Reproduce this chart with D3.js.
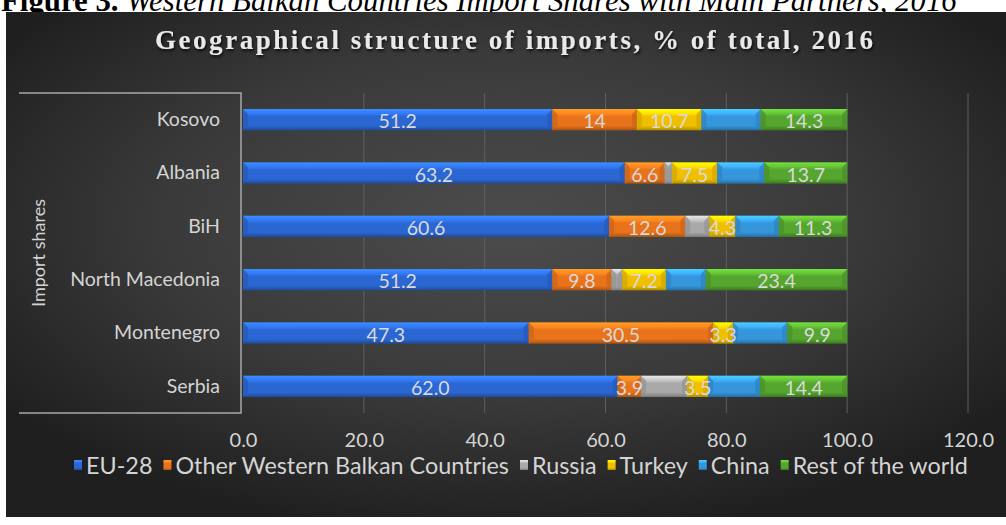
<!DOCTYPE html>
<html>
<head>
<meta charset="utf-8">
<script src="https://cdn.jsdelivr.net/npm/d3@7"></script>
<style>
  html, body { margin: 0; padding: 0; background: #ffffff; }
  svg { display: block; }
</style>
</head>
<body>
<svg id="chart" width="1006" height="525"></svg>
<script>
// ---- Data ----
const captionBold = "Figure 3.";
const captionItalic = " Western Balkan Countries Import Shares with Main Partners, 2016";
const chartTitle = "Geographical structure of imports, % of total, 2016";
const axisGroupLabel = "Import shares";
const categories = ["Kosovo", "Albania", "BiH", "North Macedonia", "Montenegro", "Serbia"];
const seriesNames = ["EU-28", "Other Western Balkan Countries", "Russia", "Turkey", "China", "Rest of the world"];
const eu28     = [51.2, 63.2, 60.6, 51.2, 47.3, 62.0];
const otherWB  = [14,   6.6,  12.6, 9.8,  30.5, 3.9];
const russia   = [0,    1.2,  4.0,  1.8,  0,    7.6];
const turkey   = [10.7, 7.5,  4.3,  7.2,  3.3,  3.5];
const china    = [9.8,  7.8,  7.2,  6.6,  9.0,  8.6];
const restWorld= [14.3, 13.7, 11.3, 23.4, 9.9,  14.4];
const xTicks = [0, 20, 40, 60, 80, 100, 120];

// ---- Styling ----
const seriesValues = [eu28, otherWB, russia, turkey, china, restWorld];
const seriesColors = ["#2b67d3", "#e8731b", "#a9a9a9", "#f0c000", "#3596dc", "#55a52e"];
const labelFormats = [v => v.toFixed(1), v => String(v), null, v => String(v), null, v => String(v)];
const FONT = "Lato, 'Open Sans', sans-serif";

const svg = d3.select("#chart");
const defs = svg.append("defs");

// background gradient
const bg = defs.append("radialGradient").attr("id", "bg")
  .attr("cx", "50%").attr("cy", "42%").attr("r", "62%");
bg.append("stop").attr("offset", "0%").attr("stop-color", "#4c4c4c");
bg.append("stop").attr("offset", "55%").attr("stop-color", "#3a3a3a");
bg.append("stop").attr("offset", "100%").attr("stop-color", "#1f1f1f");

// caption (partly hidden behind the panel, as in the reference)
const cap = svg.append("text")
  .attr("x", 1).attr("y", 11)
  .attr("font-family", "'Liberation Serif', 'Times New Roman', serif")
  .attr("font-size", 24).attr("fill", "#000");
cap.append("tspan").attr("font-weight", "bold").text(captionBold);
cap.append("tspan").attr("font-style", "italic").text(captionItalic);
{
  const len = cap.node().getComputedTextLength();
  cap.attr("font-size", 24 * 956 / len);
}

// panel
svg.append("rect").attr("x", 6).attr("y", 12).attr("width", 1000).attr("height", 505)
  .attr("fill", "url(#bg)");

// series gradients
seriesColors.forEach((c, i) => {
  const g = defs.append("linearGradient").attr("id", "g" + i)
    .attr("x1", 0).attr("y1", 0).attr("x2", 0).attr("y2", 1);
  const base = d3.color(c);
  g.append("stop").attr("offset", "0%").attr("stop-color", base.brighter(0.9));
  g.append("stop").attr("offset", "22%").attr("stop-color", base.brighter(0.45));
  g.append("stop").attr("offset", "35%").attr("stop-color", base);
  g.append("stop").attr("offset", "78%").attr("stop-color", base);
  g.append("stop").attr("offset", "100%").attr("stop-color", base.darker(0.9));
});

// title with shadow
const titleShadow = defs.append("filter").attr("id", "tshadow")
  .attr("x", "-5%").attr("y", "-30%").attr("width", "110%").attr("height", "160%");
titleShadow.append("feDropShadow").attr("dx", 1).attr("dy", 2).attr("stdDeviation", 1.5)
  .attr("flood-color", "#000").attr("flood-opacity", 0.8);
svg.append("text")
  .attr("x", 514).attr("y", 49)
  .attr("text-anchor", "middle")
  .attr("font-family", "'Liberation Serif', 'Times New Roman', serif")
  .attr("font-weight", "bold").attr("font-size", 27)
  .attr("fill", "#e9e9e9")
  .attr("textLength", 718).attr("lengthAdjust", "spacing")
  .attr("filter", "url(#tshadow)")
  .text(chartTitle);

// scales
const x = d3.scaleLinear().domain([0, 120]).range([243, 968]);
const y = d3.scaleBand().domain(categories).range([93, 413]).paddingInner(0.6).paddingOuter(0.3);

// gridlines
svg.append("g").selectAll("line").data(xTicks.filter(t => t > 0)).join("line")
  .attr("x1", d => x(d)).attr("x2", d => x(d))
  .attr("y1", 93).attr("y2", 413)
  .attr("stroke", "#5e5e5e").attr("stroke-width", 1);

// x axis labels
const xAxis = d3.axisBottom(x).tickValues(xTicks).tickFormat(d3.format(".1f")).tickSize(0).tickPadding(0);
const xg = svg.append("g").attr("transform", "translate(0,433)").call(xAxis);
xg.select(".domain").remove();
xg.selectAll("text").attr("font-family", FONT).attr("font-size", 20).attr("fill", "#d4d4d4");

// stacked data
const stackData = categories.map((c, i) => {
  const o = { cat: c };
  seriesNames.forEach((s, j) => o[s] = seriesValues[j][i]);
  return o;
});
const stacked = d3.stack().keys(seriesNames)(stackData);

const barLayer = svg.append("g");
stacked.forEach((layer, si) => {
  const g = barLayer.append("g");
  layer.forEach((d) => {
    const x0 = x(d[0]), x1 = x(d[1]);
    const w = x1 - x0;
    if (w <= 0) return;
    const yy = y(d.data.cat), h = y.bandwidth();
    g.append("rect").attr("x", x0).attr("y", yy).attr("width", w).attr("height", h)
      .attr("fill", `url(#g${si})`);
    const b = Math.min(5, w / 2);
    const base = d3.color(seriesColors[si]);
    g.append("polygon")
      .attr("points", [[x0, yy], [x0 + b, yy + b], [x0 + b, yy + h - b], [x0, yy + h]].join(" "))
      .attr("fill", base.darker(0.35)).attr("opacity", 0.8);
    g.append("polygon")
      .attr("points", [[x1, yy], [x1 - b, yy + b], [x1 - b, yy + h - b], [x1, yy + h]].join(" "))
      .attr("fill", base.darker(0.35)).attr("opacity", 0.8);
  });
});

// data labels
stacked.forEach((layer, si) => {
  const fmt = labelFormats[si];
  if (!fmt) return;
  barLayer.append("g").selectAll("text").data(layer.filter(d => d[1] - d[0] > 0)).join("text")
    .attr("x", d => x((d[0] + d[1]) / 2))
    .attr("y", d => y(d.data.cat) + y.bandwidth() / 2 + 1)
    .attr("text-anchor", "middle").attr("dominant-baseline", "central")
    .attr("font-family", FONT).attr("font-size", 19.5).attr("fill", "#dadada")
    .text(d => fmt(d.data[seriesNames[si]]));
});

// category axis with grouping bracket
svg.append("path")
  .attr("d", `M19,${93} H241 V${413} H19`)
  .attr("fill", "none").attr("stroke", "#a8a8a8").attr("stroke-width", 1.5);

const yAxis = d3.axisLeft(y).tickSize(0).tickPadding(0);
const yg = svg.append("g").attr("transform", "translate(220,0)").call(yAxis);
yg.select(".domain").remove();
yg.selectAll("text").attr("font-family", FONT).attr("font-size", 19.5).attr("fill", "#d4d4d4");

svg.append("text")
  .attr("transform", "translate(38,253) rotate(-90)")
  .attr("text-anchor", "middle").attr("dominant-baseline", "central")
  .attr("font-family", FONT).attr("font-size", 18).attr("fill", "#d4d4d4")
  .text(axisGroupLabel);

// legend
const legend = svg.append("g");
const LEG_FS0 = 18;
const legTexts = [];
seriesNames.forEach((s, i) => {
  const it = legend.append("g");
  it.append("rect").attr("class", "mk").attr("y", -5).attr("width", 8).attr("height", 10)
    .attr("fill", `url(#g${i})`);
  const t = it.append("text").attr("y", 0)
    .attr("dominant-baseline", "central")
    .attr("font-family", FONT).attr("font-size", LEG_FS0).attr("fill", "#d4d4d4").text(s);
  legTexts.push(t);
});
// fit legend to the reference width (~894px)
{
  const gapM = 4, gapI = 11, mw = 8;
  const textW0 = d3.sum(legTexts, t => t.node().getComputedTextLength());
  const fixed = seriesNames.length * (mw + gapM) + (seriesNames.length - 1) * gapI;
  const fs = LEG_FS0 * (894 - fixed) / textW0;
  legTexts.forEach(t => t.attr("font-size", fs));
  let lx = 0;
  legend.selectAll("g").each(function (d, i) {
    const g = d3.select(this);
    g.select("rect").attr("x", lx);
    g.select("text").attr("x", lx + mw + gapM);
    lx += mw + gapM + legTexts[i].node().getComputedTextLength() + gapI;
  });
  legend.attr("transform", `translate(74,465)`);
}
</script>
</body>
</html>
